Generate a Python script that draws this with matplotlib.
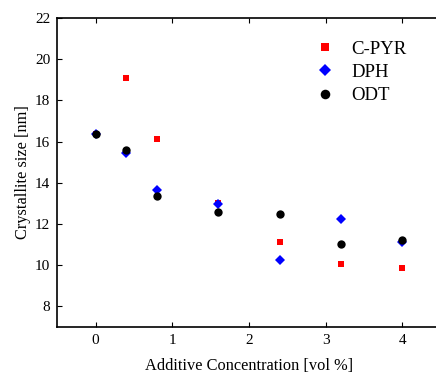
import matplotlib
matplotlib.use("Agg")
import matplotlib.pyplot as plt

plt.rcParams['font.family'] = ['Liberation Serif', 'DejaVu Serif']
plt.rcParams['mathtext.fontset'] = 'stix'

conc = [0, 0.4, 0.8, 1.6, 2.4, 3.2, 4.0]
cpyr = [16.35, 19.07, 16.13, 13.01, 11.15, 10.07, 9.86]
dph = [16.35, 15.47, 13.63, 12.98, 10.26, 12.24, 11.12]
odt = [16.37, 15.58, 13.37, 12.59, 12.51, 11.04, 11.23]

xticks = [0, 1, 2, 3, 4]
yticks = [8, 10, 12, 14, 16, 18, 20, 22]

fig = plt.figure(figsize=(4.36, 3.73), dpi=100)
ax = fig.add_axes([0.1314, 0.1233, 0.879, 0.8284])

ax.plot(conc, cpyr, linestyle='none', marker='s', markersize=5, color='#ff0000',
        markeredgewidth=0, label='C-PYR')
ax.plot(conc, dph, linestyle='none', marker='D', markersize=5.3, color='#0000ff',
        markeredgewidth=0, label='DPH')
ax.plot(conc, odt, linestyle='none', marker='o', markersize=6, color='black',
        markeredgewidth=0, label='ODT')

ax.set_xlim(-0.5, 4.5)
ax.set_ylim(7, 22)
ax.set_xticks(xticks)
ax.set_yticks(yticks)
ax.tick_params(direction='in', top=True, right=False, labelsize=11, length=3.5, width=0.8, pad=5)
ax.spines['right'].set_visible(False)
for s in ax.spines.values():
    s.set_linewidth(1.2)

ax.set_xlabel('Additive Concentration [vol %]', fontsize=11.8, labelpad=8)
ax.set_ylabel('Crystallite size [nm]', fontsize=11.8, labelpad=3)

leg = ax.legend(loc='upper left', bbox_to_anchor=(0.63, 0.982), frameon=False,
                fontsize=13.5, handlelength=1.0, handletextpad=0.9,
                labelspacing=0.33, markerscale=1.15)

fig.savefig('out.png', dpi=100)
